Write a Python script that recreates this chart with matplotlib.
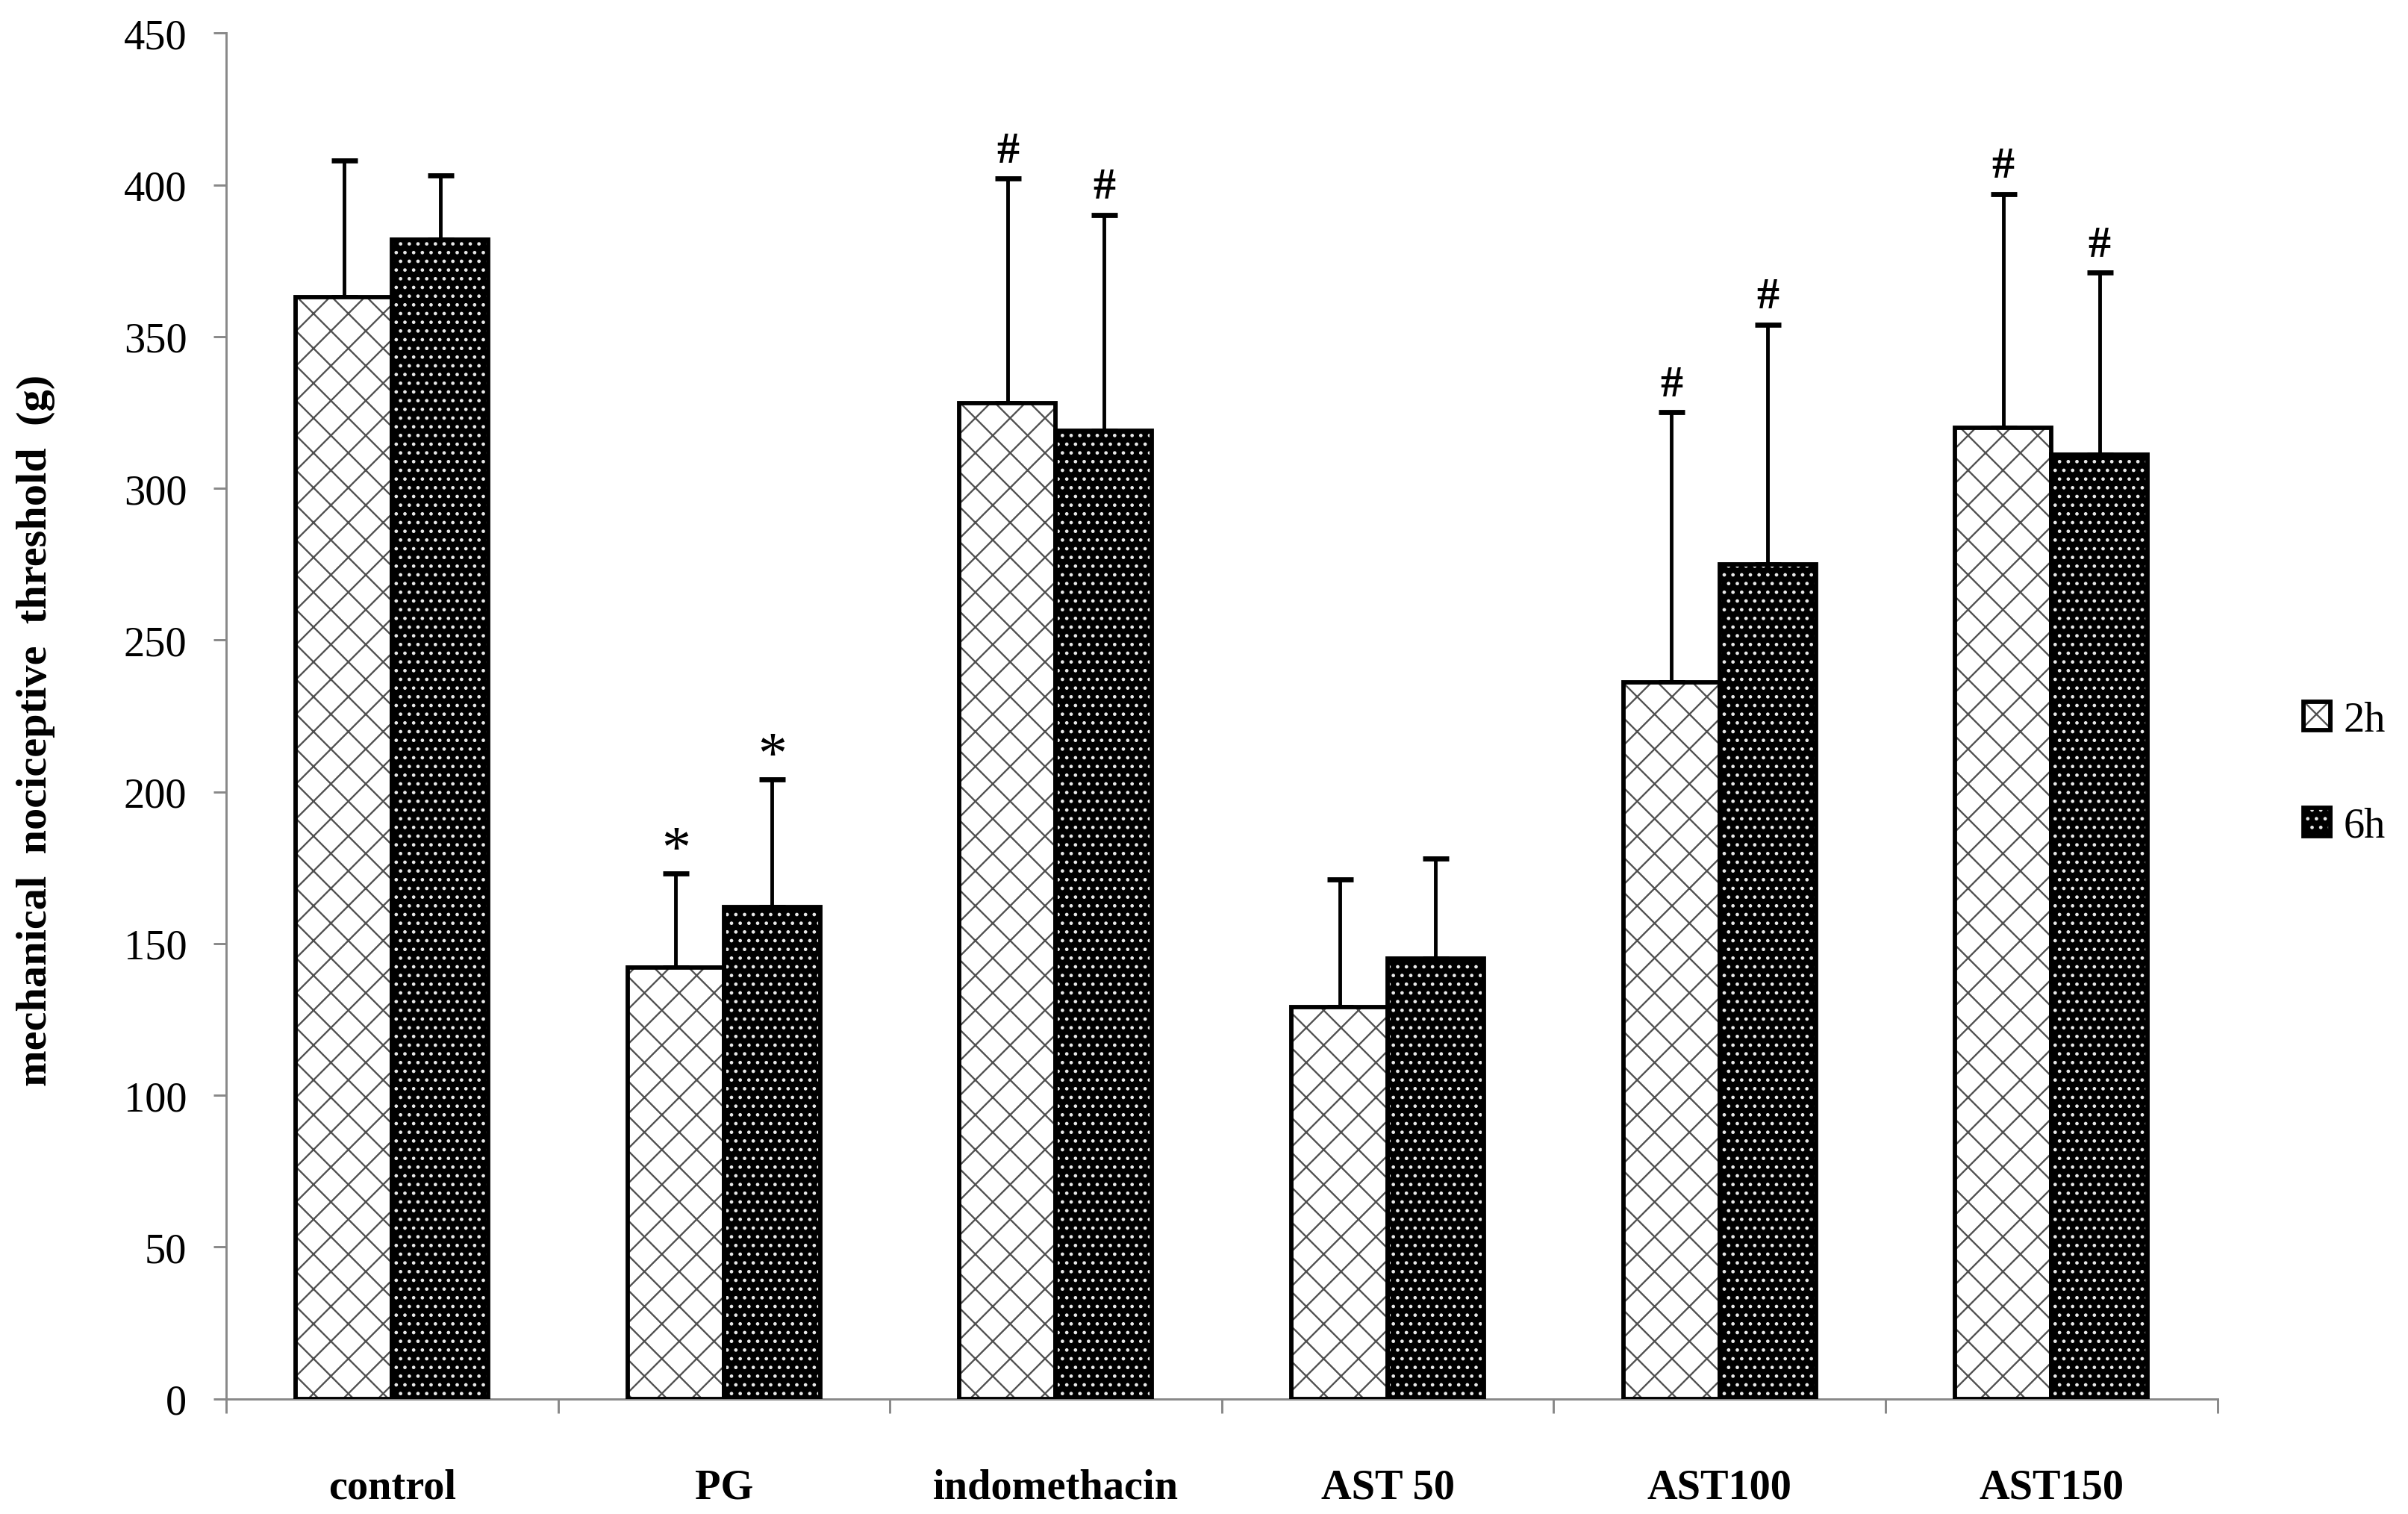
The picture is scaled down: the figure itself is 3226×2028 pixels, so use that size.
import matplotlib.pyplot as plt
import numpy as np
from matplotlib.patches import Patch

plt.rc('font', family=['Liberation Serif', 'DejaVu Serif'])
plt.rc('hatch', linewidth=1.2)

groups = ['control', 'PG', 'indomethacin', 'AST 50', 'AST100', 'AST150']
mean_2h = [363, 142, 328, 129, 236, 320]
sd_2h = [45, 31, 74, 42, 89, 77]
mean_6h = [382, 162, 319, 145, 275, 311]
sd_6h = [21, 42, 71, 33, 79, 60]
marks_2h = ['', '*', '#', '', '#', '#']
marks_6h = ['', '*', '#', '', '#', '#']

dpi = 140
fig = plt.figure(figsize=(3226/dpi, 2029/dpi), dpi=dpi)
ax = fig.add_axes([0.0939, 0.0761, 0.8269, 0.9016])

x = np.arange(len(groups))
w = 0.29

# 2h: white bars with grey crosshatch, black outline on top
ax.bar(x - w/2, mean_2h, w, color='white', edgecolor='#505050', hatch='x', linewidth=0, zorder=2)
ax.bar(x - w/2, mean_2h, w, fill=False, edgecolor='black', linewidth=3, zorder=3)
# 6h: black bars with light dots
ax.bar(x + w/2, mean_6h, w, color='black', edgecolor='#e8e8e8', hatch='..', linewidth=0, zorder=2)
ax.bar(x + w/2, mean_6h, w, fill=False, edgecolor='black', linewidth=3, zorder=3)

zeros = np.zeros(len(groups))
ax.errorbar(x - w/2, mean_2h, yerr=[zeros, sd_2h], fmt='none', ecolor='black',
            elinewidth=2.5, capsize=9, capthick=3.5, zorder=1)
ax.errorbar(x + w/2, mean_6h, yerr=[zeros, sd_6h], fmt='none', ecolor='black',
            elinewidth=2.5, capsize=9, capthick=3.5, zorder=1)

for xs, m, s, mk in [(x - w/2, mean_2h, sd_2h, marks_2h), (x + w/2, mean_6h, sd_6h, marks_6h)]:
    for xi, mi, si, k in zip(xs, m, s, mk):
        if k == '*':
            ax.annotate(k, (xi, mi + si), xytext=(0, -3), textcoords='offset points',
                        ha='center', va='bottom', fontsize=40)
        elif k:
            ax.annotate(k, (xi, mi + si), xytext=(0, 5), textcoords='offset points',
                        ha='center', va='bottom', fontsize=31, fontweight='bold')

ax.set_xlim(-0.5, len(groups) - 0.5)
ax.set_ylim(0, 450)
ax.set_yticks(np.arange(0, 451, 50))
ax.set_xticks(x)
ax.set_xticklabels(groups, fontweight='bold', fontsize=29)
ax.set_xticks(np.arange(-0.5, len(groups)), minor=True)
ax.tick_params(axis='x', which='major', length=0, pad=48)
ax.tick_params(axis='x', which='minor', length=10, width=1.5, color='#888888')
ax.tick_params(axis='y', length=9, width=1.5, color='#888888', pad=18, labelsize=29)

for side in ['top', 'right']:
    ax.spines[side].set_visible(False)
for side in ['left', 'bottom']:
    ax.spines[side].set_color('#888888')
    ax.spines[side].set_linewidth(1.5)

ax.set_ylabel('mechanical  nociceptive  threshold  (g)', fontweight='bold', fontsize=30)
ax.yaxis.set_label_coords(-0.086, 0.49)

h2 = (Patch(facecolor='white', edgecolor='#505050', hatch='x', linewidth=0),
      Patch(fill=False, edgecolor='black', linewidth=3))
h6 = (Patch(facecolor='black', edgecolor='#e8e8e8', hatch='..', linewidth=0),
      Patch(fill=False, edgecolor='black', linewidth=3))
fig.legend([h2, h6], ['2h', '6h'], loc='center left', bbox_to_anchor=(0.9495, 0.489),
           frameon=False, fontsize=29, handlelength=0.65, handleheight=0.65,
           handletextpad=0.3, labelspacing=1.6, borderaxespad=0)

fig.savefig('out.png', dpi=dpi)
